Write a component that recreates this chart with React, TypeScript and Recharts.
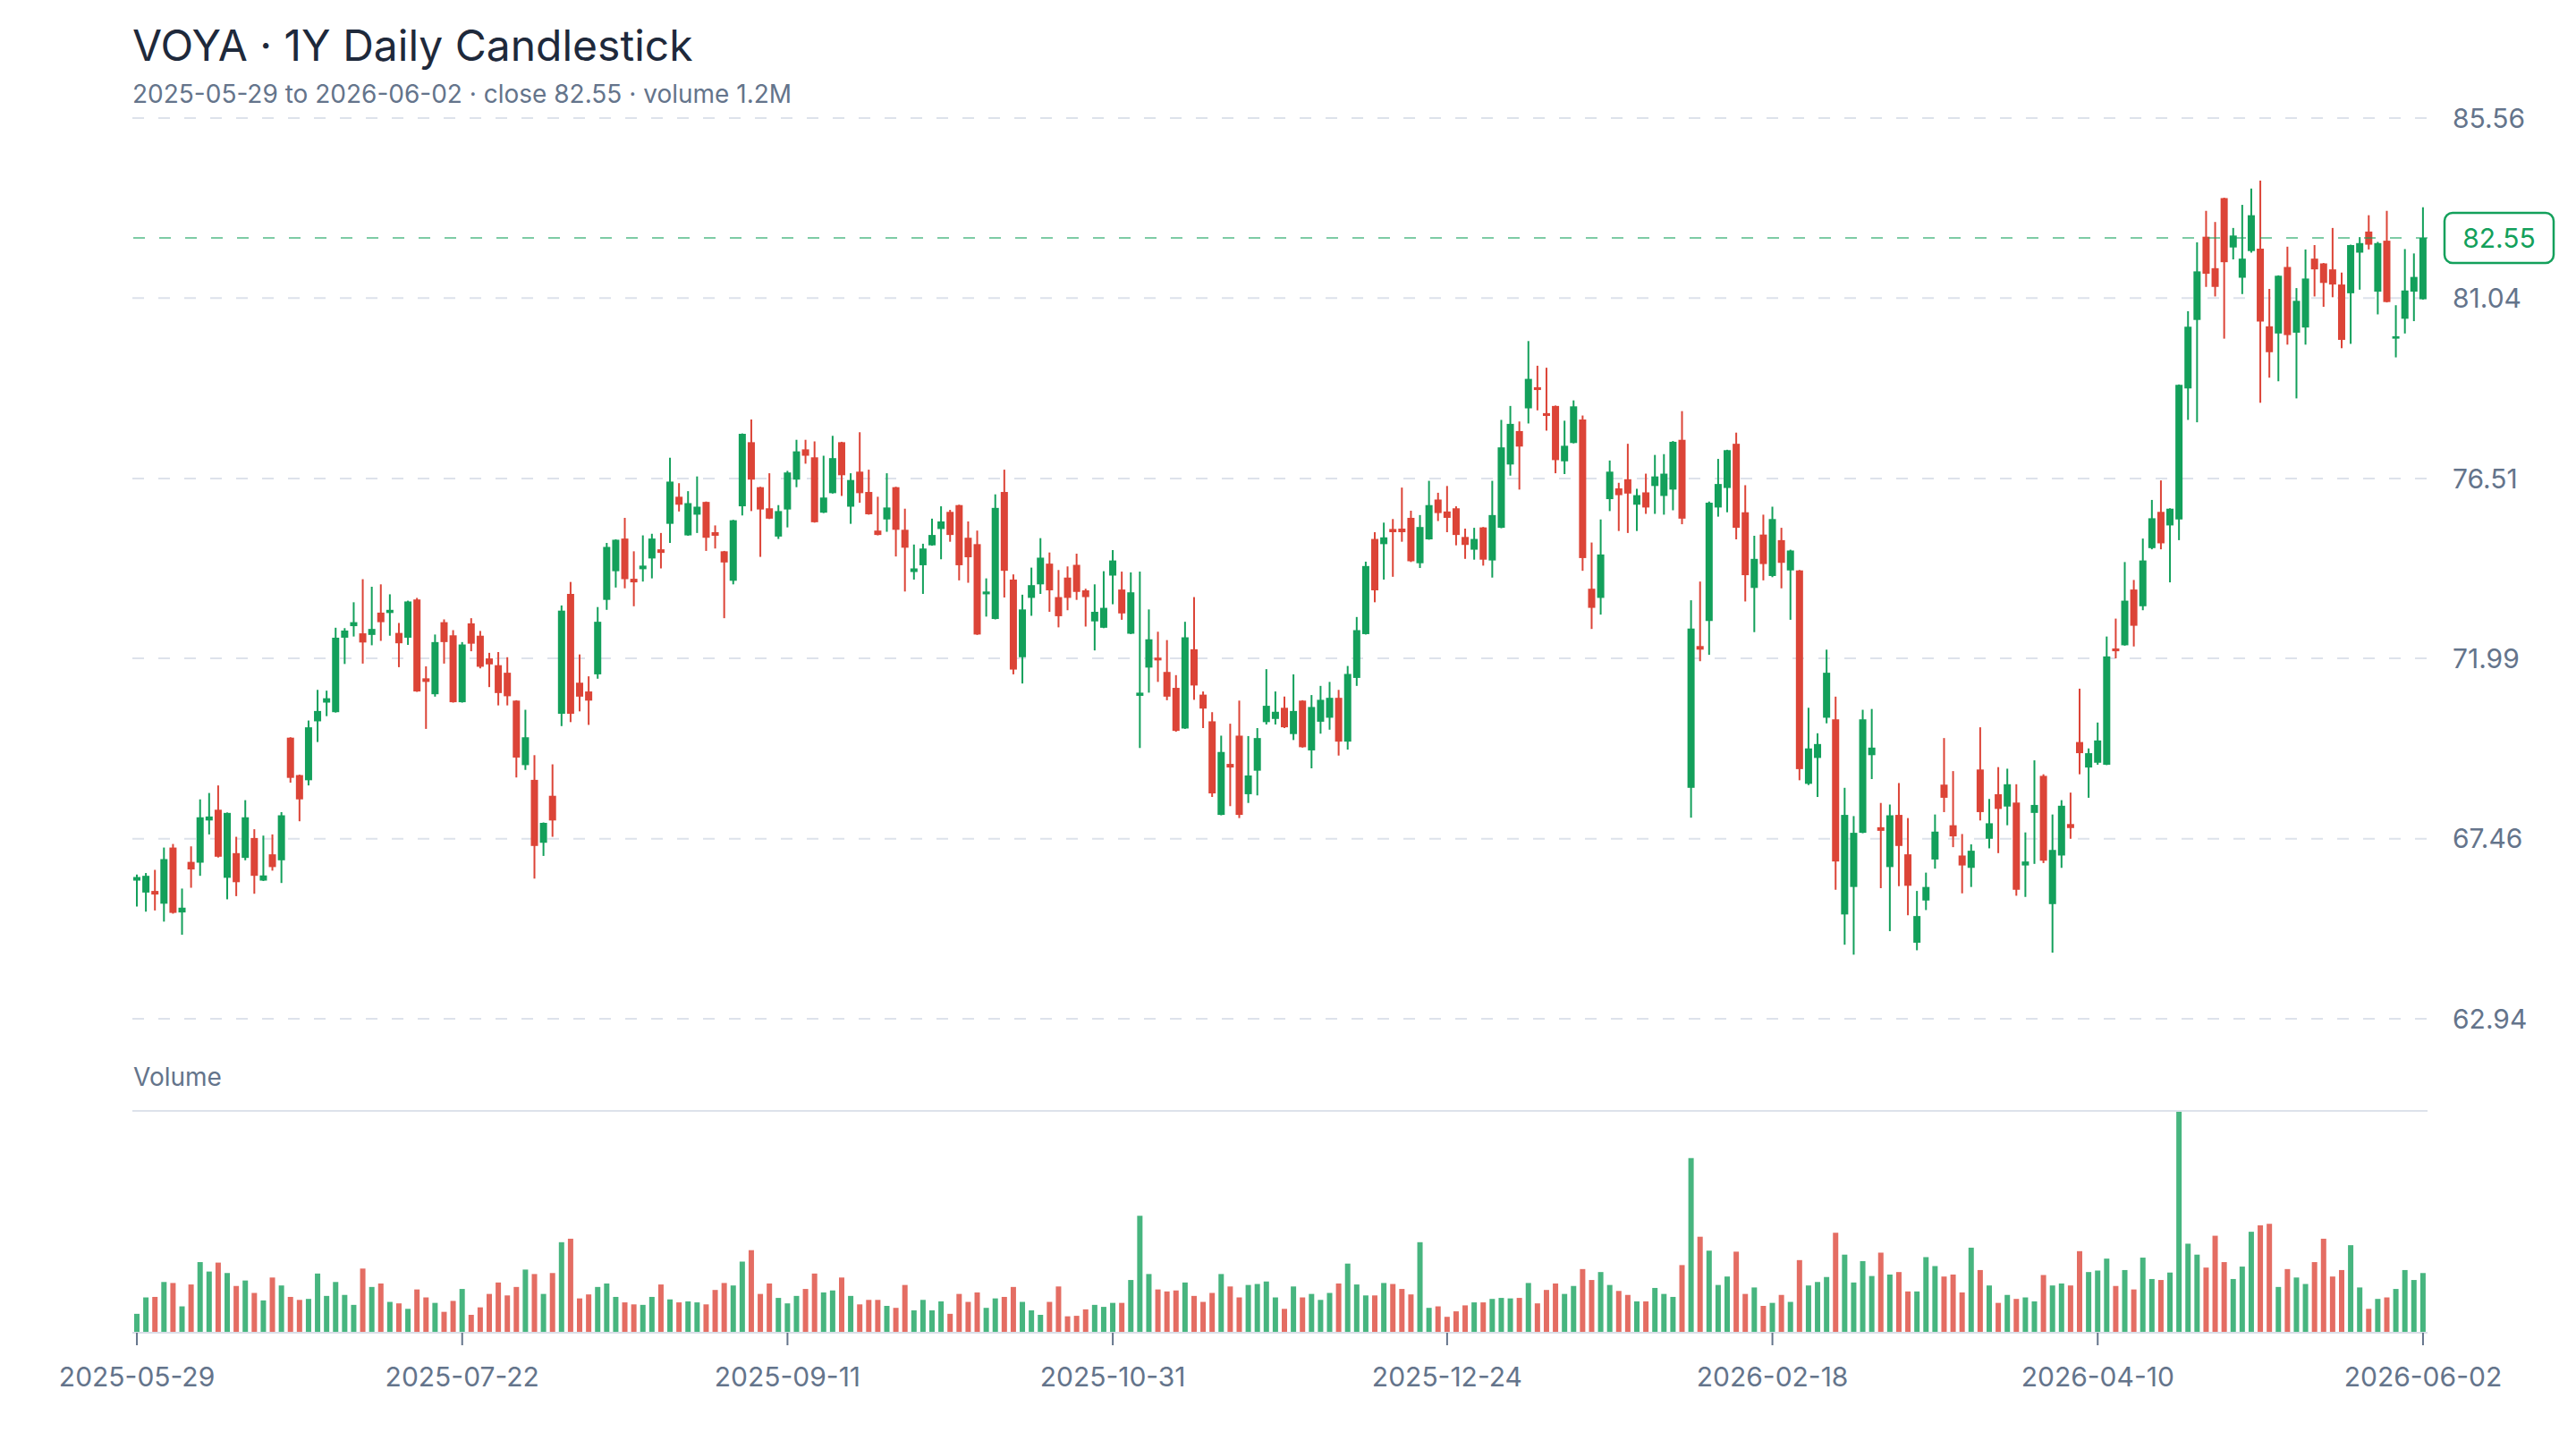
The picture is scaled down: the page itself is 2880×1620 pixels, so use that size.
import React from 'react';
import { ComposedChart, Bar, XAxis, YAxis, CartesianGrid, ReferenceLine, Cell } from 'recharts';

const OPEN = [
66.41,66.11,66.15,65.83,67.24,65.61,66.88,66.86,67.92,68.19,66.48,67.10,66.98,67.48,66.41,67.07,66.92,70.00,69.06,68.93,
70.41,70.88,70.64,72.51,72.80,72.62,72.58,73.14,73.13,72.63,72.51,73.47,71.49,71.09,72.90,72.57,70.89,72.87,72.56,71.99,
71.82,71.63,70.93,69.31,68.94,67.36,68.54,70.60,73.61,71.38,71.16,71.59,73.46,74.18,75.00,73.99,74.23,74.50,74.73,75.37,
76.05,75.08,75.60,75.92,75.16,74.68,73.94,75.81,77.42,76.29,75.76,75.05,75.73,76.48,77.24,77.04,75.65,76.14,77.42,75.80,
76.68,76.17,75.20,75.48,76.29,75.22,74.16,74.33,74.83,75.24,75.67,75.84,75.02,74.86,73.60,72.98,76.17,73.97,72.02,73.51,
73.85,74.37,73.53,74.02,74.34,73.70,72.92,72.76,74.07,73.72,72.61,71.05,71.76,72.01,71.65,71.25,70.23,72.22,71.08,70.41,
68.06,69.34,70.05,68.58,69.17,70.39,70.47,70.75,70.09,70.93,69.68,70.40,70.50,71.00,69.90,71.50,72.60,74.99,74.86,75.24,
75.25,75.52,74.38,74.98,75.98,75.68,75.76,75.04,74.72,75.28,74.45,75.27,76.86,77.70,78.27,78.80,78.15,78.33,76.94,77.40,
77.99,73.74,73.51,75.99,76.26,76.49,75.85,76.16,76.32,76.07,76.23,77.48,68.74,72.30,72.93,75.78,76.27,77.38,75.66,73.76,
75.10,74.06,74.96,74.20,74.20,68.84,69.49,70.50,70.46,65.56,66.25,67.61,69.56,67.75,66.75,68.06,67.07,64.85,65.91,66.94,
68.82,67.80,67.04,66.73,69.20,67.46,68.58,68.27,68.37,66.79,68.11,69.04,65.82,67.04,67.83,69.89,69.25,69.37,69.32,72.24,
72.32,73.72,73.30,74.76,75.67,75.33,75.48,78.77,80.49,82.58,81.79,83.55,82.31,81.55,82.22,82.28,80.33,80.15,81.82,80.17,
80.30,82.03,81.91,81.76,81.38,81.16,82.18,82.71,81.20,82.48,80.02,80.52,81.20,81.01
];
const HIGH = [
66.56,66.60,66.68,67.24,67.33,66.21,67.27,68.45,68.61,68.80,68.12,67.51,68.43,67.70,67.54,67.57,68.13,70.01,69.07,70.43,
71.20,71.18,72.76,72.75,73.40,73.98,73.79,73.85,73.60,72.88,73.44,73.51,71.79,72.59,72.97,72.70,72.40,73.00,72.68,72.13,
72.15,72.02,70.94,70.70,69.56,67.87,69.33,73.32,73.91,72.09,71.54,73.28,74.89,74.98,75.52,74.68,75.08,75.12,75.14,77.03,
76.39,76.19,76.56,75.93,75.33,74.69,75.47,77.64,77.99,76.30,76.64,75.84,76.70,77.48,77.48,77.44,77.08,77.58,77.43,76.64,
77.67,76.73,76.05,76.64,76.30,75.75,74.85,74.87,75.50,75.81,75.72,75.85,75.43,75.20,74.00,76.11,76.73,74.10,73.59,74.27,
75.01,74.65,74.21,74.30,74.62,73.74,73.85,74.18,74.71,74.17,74.15,74.17,73.22,72.66,72.45,71.57,72.91,73.53,71.16,70.64,
70.05,70.35,70.93,70.04,70.24,71.72,71.16,71.03,71.59,70.94,71.07,71.30,71.40,71.20,71.80,73.03,74.42,75.16,75.40,75.49,
76.28,75.70,75.59,76.45,76.15,76.32,75.81,75.25,75.27,75.29,76.45,77.98,78.33,77.94,79.96,79.34,79.29,78.34,77.96,78.47,
78.09,74.90,75.48,76.96,76.40,77.38,76.25,76.63,77.10,77.12,77.45,78.20,73.45,73.92,75.93,77.00,77.23,77.66,76.34,75.07,
75.60,75.80,75.27,74.72,74.21,70.75,70.11,72.21,71.03,68.74,68.03,70.70,70.72,68.36,68.32,68.86,67.98,66.15,66.61,68.07,
69.99,69.16,67.58,67.32,70.26,68.46,69.26,69.22,68.83,67.62,69.43,69.08,68.07,68.43,68.62,71.23,69.73,70.38,72.54,72.99,
74.41,73.96,75.00,75.97,76.46,75.76,78.87,80.71,82.44,83.23,82.95,83.56,82.80,83.38,83.79,83.99,81.27,81.61,82.33,81.29,
82.26,82.37,81.92,82.80,81.68,82.38,82.57,83.12,82.45,83.23,80.86,82.27,82.16,83.32
];
const LOW = [
65.76,65.63,65.66,65.38,65.58,65.05,66.23,66.53,67.57,66.99,65.94,66.02,66.92,66.08,66.40,66.66,66.35,68.87,67.90,68.80,
69.89,70.54,70.63,71.85,72.54,71.86,72.32,72.43,72.56,71.77,72.33,71.15,70.22,71.03,71.86,70.88,70.88,72.17,71.74,71.27,
70.81,70.81,69.00,69.19,66.46,67.03,67.51,70.29,70.39,70.66,70.32,71.48,73.21,73.77,73.75,73.30,73.92,74.00,74.25,74.89,
75.68,75.07,75.14,74.69,74.75,73.00,73.85,75.58,75.69,74.54,75.49,74.99,75.28,76.29,76.88,75.40,75.64,76.13,76.07,75.37,
75.90,75.60,75.08,75.17,74.55,73.67,73.97,73.61,74.82,74.48,74.92,73.95,73.89,72.58,73.04,72.97,73.52,71.59,71.36,73.06,
73.61,73.16,72.77,73.20,73.46,72.79,72.19,72.75,73.35,72.96,72.60,69.74,71.13,71.40,70.94,70.15,70.22,70.95,70.24,68.51,
68.05,68.28,67.98,68.36,68.55,70.33,70.33,70.24,69.94,69.75,69.23,70.10,70.20,69.55,69.70,71.30,72.59,73.40,73.97,74.04,
74.92,74.41,74.26,74.97,75.44,75.16,74.83,74.49,74.47,74.32,74.02,75.26,76.58,76.23,77.89,78.22,77.71,76.64,76.62,77.39,
74.19,72.73,73.09,75.69,75.19,75.14,75.19,75.62,75.62,75.60,75.71,75.36,67.99,71.92,72.08,75.55,75.66,74.98,73.42,72.65,
73.95,74.03,73.75,72.96,68.93,68.81,68.51,70.36,66.18,64.80,64.55,67.60,68.96,66.22,65.14,66.27,65.54,64.66,65.67,66.71,
68.13,67.25,66.09,66.25,67.92,67.22,67.10,67.80,66.03,66.00,66.83,66.85,64.60,66.73,67.46,69.08,68.49,69.32,69.31,71.99,
72.31,72.29,73.20,74.73,74.73,73.90,74.96,77.98,77.92,81.32,81.08,80.02,82.01,81.14,82.18,78.41,79.04,78.95,79.87,78.52,
79.87,81.08,80.82,81.06,79.78,79.89,81.25,82.26,80.63,80.93,79.55,80.15,80.46,81.00
];
const CLOSE = [
66.50,66.53,66.06,66.95,65.60,65.73,66.69,68.00,68.02,67.01,68.11,66.37,68.00,66.53,66.54,66.75,68.05,68.99,68.45,70.26,
70.67,70.99,72.51,72.69,72.90,72.39,72.73,72.90,73.21,72.37,73.42,71.16,71.40,72.40,72.40,70.89,72.34,72.36,71.78,71.84,
71.12,71.04,69.50,70.01,67.28,67.86,67.92,73.19,70.60,71.03,70.93,72.91,74.79,74.97,73.98,73.90,74.32,75.00,74.64,76.43,
75.85,75.89,75.80,75.02,75.07,74.40,75.46,77.63,76.48,75.73,75.50,75.69,76.66,77.19,77.08,75.41,76.03,77.02,76.59,76.47,
76.14,75.61,75.09,75.78,75.22,74.77,74.25,74.75,75.09,75.43,75.09,74.33,74.53,72.59,73.67,75.77,74.19,71.71,73.22,73.83,
74.52,73.70,73.05,73.51,73.66,73.53,73.16,73.26,74.45,73.12,73.65,71.13,72.47,71.94,71.03,70.17,72.52,71.31,70.73,68.60,
69.64,69.25,68.06,69.05,69.99,70.80,70.65,70.26,70.67,69.76,70.77,70.95,71.00,69.90,71.60,72.70,74.31,73.70,75.03,75.16,
75.16,74.43,75.29,75.84,75.64,75.52,75.09,74.84,74.99,74.47,75.59,77.29,77.88,77.31,79.01,78.73,78.08,76.97,77.33,78.32,
74.51,73.26,74.60,76.68,76.09,76.13,76.09,75.78,76.56,76.63,77.43,75.50,72.74,72.21,75.90,76.37,77.22,75.27,74.08,74.49,
74.36,75.49,74.39,74.70,69.21,69.73,69.84,71.63,66.89,68.06,67.61,70.46,69.75,67.66,68.05,67.28,66.28,65.52,66.25,67.64,
68.49,67.52,66.79,67.16,68.13,67.85,68.21,68.83,66.18,66.89,68.31,66.91,67.18,68.29,67.73,69.61,69.61,69.93,72.04,72.17,
73.44,72.81,74.45,75.51,74.88,75.75,78.86,80.32,81.71,81.65,81.32,81.94,82.61,82.03,83.12,80.45,79.68,81.60,80.11,80.97,
81.53,81.76,81.42,81.38,79.99,82.37,82.42,82.38,82.42,80.94,80.08,81.23,81.57,82.55
];
// volume in millions of shares
const VOLUME = [
0.38,0.71,0.72,1.02,1.00,0.53,0.97,1.42,1.23,1.41,1.20,0.94,1.05,0.80,0.65,1.11,0.95,0.72,0.66,0.68,
1.19,0.74,1.02,0.76,0.56,1.29,0.92,0.99,0.62,0.59,0.48,0.87,0.71,0.60,0.42,0.64,0.88,0.36,0.51,0.78,
1.01,0.75,0.92,1.27,1.18,0.78,1.20,1.82,1.89,0.69,0.77,0.92,0.99,0.72,0.61,0.57,0.56,0.72,0.97,0.67,
0.61,0.63,0.61,0.57,0.86,1.00,0.95,1.43,1.66,0.78,0.99,0.70,0.59,0.74,0.88,1.19,0.81,0.85,1.11,0.74,
0.57,0.66,0.66,0.54,0.50,0.96,0.45,0.66,0.45,0.63,0.38,0.78,0.62,0.81,0.50,0.69,0.72,0.92,0.62,0.45,
0.36,0.62,0.93,0.33,0.34,0.47,0.56,0.52,0.60,0.60,1.06,2.35,1.18,0.87,0.83,0.85,1.01,0.74,0.62,0.80,
1.18,0.93,0.71,0.96,0.98,1.03,0.71,0.48,0.93,0.71,0.78,0.66,0.80,0.99,1.39,0.97,0.75,0.75,1.00,0.98,
0.88,0.77,1.82,0.50,0.53,0.32,0.43,0.55,0.61,0.61,0.68,0.70,0.69,0.70,1.00,0.59,0.86,0.99,0.78,0.94,
1.28,1.06,1.22,0.96,0.84,0.76,0.63,0.63,0.90,0.78,0.72,1.36,3.51,1.93,1.65,0.96,1.13,1.63,0.78,0.91,
0.54,0.60,0.76,0.62,1.46,0.95,1.02,1.12,2.01,1.57,1.01,1.44,1.14,1.61,1.17,1.22,0.83,0.83,1.52,1.34,
1.13,1.17,0.81,1.71,1.26,0.95,0.60,0.76,0.68,0.71,0.63,1.16,0.95,0.99,0.95,1.64,1.22,1.25,1.49,0.94,
1.26,0.87,1.51,1.08,1.06,1.21,4.46,1.79,1.57,1.31,1.95,1.42,1.08,1.33,2.03,2.16,2.19,0.92,1.28,1.11,
0.98,1.42,1.89,1.13,1.26,1.76,0.91,0.48,0.68,0.71,0.88,1.26,1.06,1.20
];

const TICK_INDEX = [0, 36, 72, 108, 145, 181, 217, 253];
const TICK_LABELS = ['2025-05-29', '2025-07-22', '2025-09-11', '2025-10-31', '2025-12-24', '2026-02-18', '2026-04-10', '2026-06-02'];
const PRICE_TICKS = [62.94, 67.46, 71.99, 76.51, 81.04, 85.56];

const GREEN = '#13a05b';
const RED = '#dc4437';
const GRID = '#dde2eb';
const MUTED = '#64748b';
const FONT = 'Inter, "Noto Sans", sans-serif';

const rows = OPEN.map((o, i) => ({
  i,
  o,
  h: HIGH[i],
  l: LOW[i],
  c: CLOSE[i],
  v: VOLUME[i],
  range: [LOW[i], HIGH[i]],
}));

const last = rows[rows.length - 1];
const VMAX = Math.max(...VOLUME);

const Candle = (props: any) => {
  const { x, y, width, height, payload } = props;
  if (!payload || height == null) return null;
  const { o, h, l, c } = payload;
  const k = h - l > 0 ? height / (h - l) : 0;
  const yO = y + (h - o) * k;
  const yC = y + (h - c) * k;
  const color = c >= o ? GREEN : RED;
  const cx = x + width / 2;
  const top = Math.min(yO, yC);
  const bh = Math.max(Math.abs(yO - yC), 2);
  return (
    <g>
      <line x1={cx} x2={cx} y1={y} y2={y + height} stroke={color} strokeWidth={2} />
      <rect x={x} y={top} width={width} height={bh} fill={color} />
    </g>
  );
};

const PriceTag = (props: any) => {
  const vb = props.viewBox || {};
  const right = (vb.x || 0) + (vb.width || 0);
  const yy = vb.y || 0;
  const bx = right + 19;
  return (
    <g>
      <rect x={bx} y={yy - 28} width={122} height={56} rx={9} ry={9} fill="#ffffff" stroke={GREEN} strokeWidth={2.5} />
      <text x={bx + 61} y={yy} dy="0.36em" textAnchor="middle" fill={GREEN} fontSize={30} fontFamily={FONT}>
        {last.c.toFixed(2)}
      </text>
    </g>
  );
};

const tickLabel = (v: number) => {
  const k = TICK_INDEX.indexOf(v);
  return k >= 0 ? TICK_LABELS[k] : '';
};

export default function App() {
  return (
    <div style={{ position: 'absolute', left: 0, top: 0, width: 2880, height: 1620, background: '#ffffff', overflow: 'hidden' }}>
      <div style={{ position: 'absolute', left: 0, top: 0 }}>
        <ComposedChart width={2880} height={1200} data={rows} margin={{ top: 132, right: 0, bottom: 61, left: 148 }}>
          <CartesianGrid vertical={false} stroke={GRID} strokeWidth={2} strokeDasharray="13 16" />
          <XAxis dataKey="i" hide />
          <YAxis
            orientation="right"
            domain={[62.94, 85.56]}
            ticks={PRICE_TICKS}
            interval={0}
            allowDataOverflow
            width={166}
            axisLine={false}
            tickLine={false}
            tickSize={0}
            tickMargin={28}
            tick={{ fill: MUTED, fontSize: 30, fontFamily: FONT }}
            tickFormatter={(v: number) => v.toFixed(2)}
          />
          <ReferenceLine
            y={last.c}
            stroke={GREEN}
            strokeOpacity={0.55}
            strokeWidth={2}
            strokeDasharray="13 16"
            label={<PriceTag />}
          />
          <Bar dataKey="range" barSize={8} shape={(p: any) => <Candle {...p} />} isAnimationActive={false} />
        </ComposedChart>
      </div>
      <div style={{ position: 'absolute', left: 0, top: 1200 }}>
        <ComposedChart width={2880} height={420} data={rows} margin={{ top: 42, right: 166, bottom: 0, left: 148 }}>
          <XAxis
            dataKey="i"
            ticks={TICK_INDEX}
            interval={0}
            height={130}
            tickSize={14}
            tickMargin={25}
            axisLine={{ stroke: '#d9dee7', strokeWidth: 2 }}
            tickLine={{ stroke: MUTED, strokeWidth: 2 }}
            tick={{ fill: MUTED, fontSize: 30, fontFamily: FONT }}
            tickFormatter={tickLabel}
          />
          <YAxis hide domain={[0, VMAX]} />
          <ReferenceLine y={VMAX} stroke={GRID} strokeWidth={2} ifOverflow="visible" />
          <Bar dataKey="v" barSize={6} isAnimationActive={false}>
            {rows.map((r) => (
              <Cell key={r.i} fill={r.c >= r.o ? GREEN : RED} fillOpacity={0.78} />
            ))}
          </Bar>
        </ComposedChart>
      </div>
      <svg width={2880} height={1620} style={{ position: 'absolute', left: 0, top: 0, pointerEvents: 'none' }}>
        <text x={148} y={68} fontSize={48} fontWeight={400} fill="#1e293b" fontFamily={FONT}>
          VOYA · 1Y Daily Candlestick
        </text>
        <text x={148} y={115} fontSize={28} fill={MUTED} fontFamily={FONT}>
          {`2025-05-29 to 2026-06-02 · close ${last.c.toFixed(2)} · volume ${last.v.toFixed(1)}M`}
        </text>
        <text x={149} y={1214} fontSize={28} fill={MUTED} fontFamily={FONT}>
          Volume
        </text>
      </svg>
    </div>
  );
}
